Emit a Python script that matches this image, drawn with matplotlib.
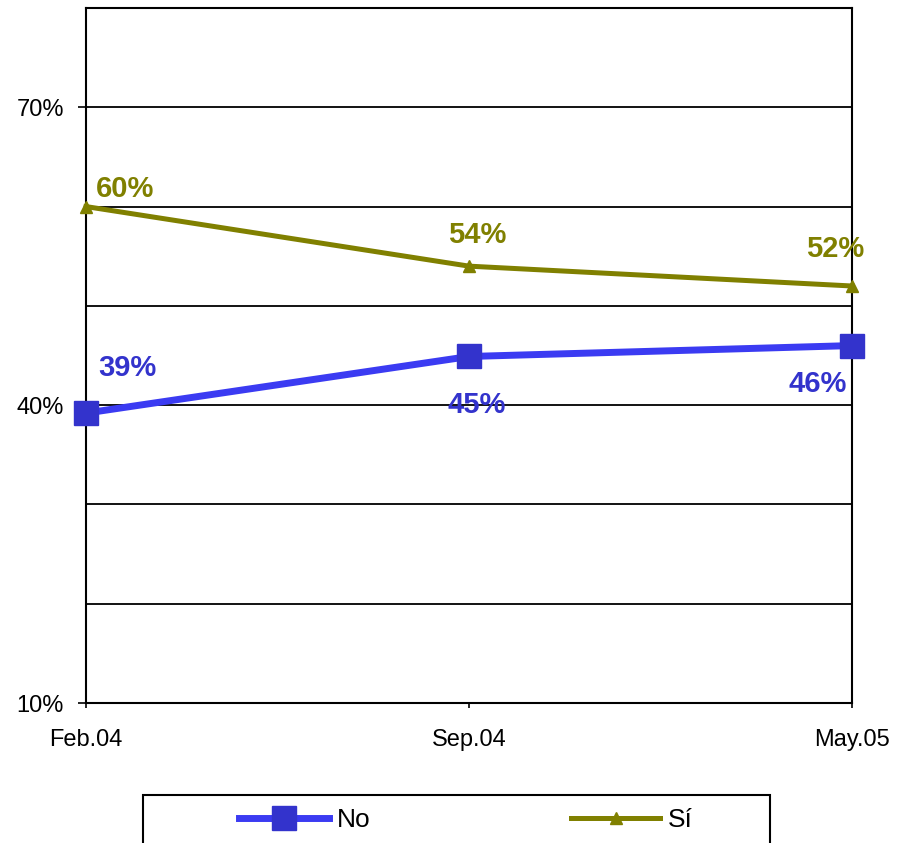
import matplotlib.pyplot as plt
from matplotlib.patches import Rectangle

periods = ['Feb.04', 'Sep.04', 'May.05']
no_vals = [39.2, 44.9, 46.0]
si_vals = [60.0, 54.0, 52.0]
no_labels = ['39%', '45%', '46%']
si_labels = ['60%', '54%', '52%']

plt.rcParams['font.family'] = ['Liberation Sans', 'DejaVu Sans']

W, H = 898, 843
fig = plt.figure(figsize=(W / 100, H / 100), dpi=100)
ax = fig.add_axes([86 / W, 140 / H, 766 / W, 695 / H])

x = list(range(len(periods)))
no_line, = ax.plot(x, no_vals, color='#3b3bf2', lw=5, marker='s', ms=17,
                   mfc='#3333cc', mec='#3333cc', clip_on=False, zorder=4, label='No')
si_line, = ax.plot(x, si_vals, color='#808000', lw=3.6, marker='^', ms=9,
                   mfc='#808000', mec='#808000', clip_on=False, zorder=3, label='Sí')

no_off = [(41, 45), (8, -49), (-34, -38)]
si_off = [(39, 18), (8, 31), (-17, 37)]
for i in x:
    ax.annotate(no_labels[i], (i, no_vals[i]), xytext=no_off[i], textcoords='offset pixels',
                ha='center', va='center', fontsize=21, fontweight='bold', color='#3333cc')
    ax.annotate(si_labels[i], (i, si_vals[i]), xytext=si_off[i], textcoords='offset pixels',
                ha='center', va='center', fontsize=21, fontweight='bold', color='#808000')

ax.set_xlim(0, 2)
ax.set_ylim(10, 80)
ax.set_yticks([10, 40, 70])
ax.set_yticklabels(['10%', '40%', '70%'])
ax.set_yticks([20, 30, 50, 60], minor=True)
ax.set_xticks(x)
ax.set_xticklabels(periods)
ax.tick_params(axis='y', which='major', direction='out', length=5.8, width=1.2,
               labelsize=17, pad=10)
ax.tick_params(axis='y', which='minor', length=0)
ax.tick_params(axis='x', direction='out', length=3.6, width=1.2, labelsize=17, pad=15)
ax.grid(axis='y', which='both', color='black', lw=1.3)
ax.set_axisbelow(True)
for s in ax.spines.values():
    s.set_color('black')
    s.set_linewidth(1.5)

# legend box runs off the bottom edge of the picture
fig.patches.append(Rectangle((143 / W, -10 / H), 627 / W, (48 + 10) / H,
                             transform=fig.transFigure, fill=False,
                             edgecolor='black', lw=1.5))
fig.legend(handles=[no_line, si_line], ncol=2, loc='center',
           bbox_to_anchor=(466 / W, 1 - 820 / H), frameon=False, fontsize=19,
           handlelength=3.4, handletextpad=0.3, columnspacing=7.6)

fig.savefig('out.png', dpi=100)
